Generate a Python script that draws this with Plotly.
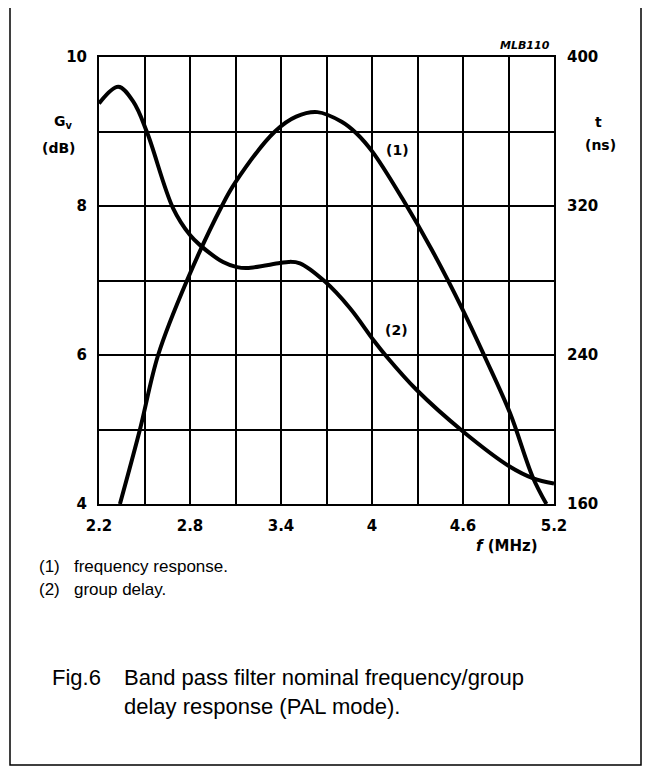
import plotly.graph_objects as go

# Curve (1): frequency response, Gv (dB) vs f (MHz)
freq_f = [2.338, 2.47, 2.59, 2.78, 3.01, 3.10, 3.36, 3.50, 3.64, 3.80, 3.90, 4.006, 4.20, 4.395, 4.60, 4.745, 4.91, 5.06, 5.15]
gain_db = [4.0, 5.0, 6.0, 7.0, 8.0, 8.32, 9.0, 9.2, 9.26, 9.13, 8.97, 8.72, 8.1, 7.41, 6.6, 5.97, 5.22, 4.36, 4.0]

# Curve (2): group delay, t (ns) vs f (MHz)
delay_f = [2.2, 2.327, 2.426, 2.516, 2.688, 2.80, 2.866, 3.018, 3.11, 3.176, 3.393, 3.45, 3.525, 3.69, 3.855, 4.009, 4.097, 4.295, 4.602, 4.91, 5.063, 5.2]
delay_ns = [375, 384, 376, 359.7, 318.9, 304.4, 299, 289.9, 287.2, 286.7, 289.4, 290, 289.2, 279.4, 265.1, 248.1, 239.1, 221.2, 198.8, 180.0, 173.8, 171.0]

x_ticks = [2.2 + 0.3 * i for i in range(11)]
x_labels = ["2.2", "", "2.8", "", "3.4", "", "4", "", "4.6", "", "5.2"]
y_ticks = [4, 5, 6, 7, 8, 9, 10]
y_labels = ["4", "", "6", "", "8", "", "10"]
y2_ticks = [160, 240, 320, 400]
y2_labels = ["160", "240", "320", "400"]

OFF = 8  # page body margin
W, H = 653 - OFF, 771 - OFF
L, R, T, B = 99, 554, 57, 504  # plot area in page pixels

def px(x):
    return (x - L) / (R - L)

def py(y):
    return (B - y) / (B - T)

fig = go.Figure()
fig.add_trace(go.Scatter(x=freq_f, y=gain_db, mode="lines",
                         line=dict(color="black", width=4, shape="spline", smoothing=1.0), showlegend=False))
fig.add_trace(go.Scatter(x=delay_f, y=delay_ns, mode="lines", yaxis="y2",
                         line=dict(color="black", width=4, shape="spline", smoothing=1.0), showlegend=False))

BF = "DejaVu Sans, sans-serif"
tf = dict(family=BF, size=15, color="black", weight="bold")

fig.update_layout(
    width=W, height=H,
    margin=dict(l=L - OFF, r=W - (R - OFF), t=T - OFF, b=H - (B - OFF), pad=0),
    paper_bgcolor="white", plot_bgcolor="white",
    xaxis=dict(range=[2.2, 5.2], tickvals=x_ticks, ticktext=x_labels, showgrid=True, gridcolor="black", gridwidth=2,
               showline=True, mirror=True, linecolor="black", linewidth=2, zeroline=False, ticks="",
               tickfont=tf, ticklabelstandoff=7),
    yaxis=dict(range=[4, 10], tickvals=y_ticks, ticktext=y_labels, showgrid=True, gridcolor="black", gridwidth=2,
               showline=True, mirror=True, linecolor="black", linewidth=2, zeroline=False, ticks="",
               tickfont=tf, ticklabelstandoff=7),
    yaxis2=dict(range=[160, 400], tickvals=y2_ticks, ticktext=y2_labels, overlaying="y", side="right",
                showgrid=False, zeroline=False, ticks="", showline=False, tickfont=tf, ticklabelstandoff=12),
    font=dict(family="Liberation Sans, Arial, sans-serif", color="black"),
)

bold = dict(family=BF, size=14, color="black", weight="bold")
ann = [
    dict(x=px(63), y=py(122), text="G<sub>v</sub>", font=bold),
    dict(x=px(59), y=py(148), text="(dB)", font=bold),
    dict(x=px(598), y=py(122), text="t", font=bold),
    dict(x=px(600), y=py(145), text="(ns)", font=bold),
    dict(x=px(507), y=py(546), text="<i>f</i> (MHz)", font=dict(family=BF, size=15, color="black", weight="bold")),
    dict(x=px(525), y=py(45), text="<i>MLB110</i>", font=dict(family=BF, size=11, color="black", weight="bold")),
    dict(x=px(397), y=py(150), text="(1)", font=bold),
    dict(x=px(396), y=py(330), text="(2)", font=bold),
]
for a in ann:
    a.update(xref="paper", yref="paper", showarrow=False, xanchor="center", yanchor="middle")
    fig.add_annotation(**a)

reg = dict(family="Liberation Sans, Arial, sans-serif", color="black")
left_notes = [
    (37, 566, "(1)&nbsp;&nbsp;&nbsp;frequency response.", 17),
    (37, 589, "(2)&nbsp;&nbsp;&nbsp;group delay.", 17),
    (50, 677, "Fig.6", 22),
    (122, 677, "Band pass filter nominal frequency/group", 22),
    (122, 706, "delay response (PAL mode).", 22),
]
for x0, y0, txt, sz in left_notes:
    fig.add_annotation(x=px(x0), y=py(y0), xref="paper", yref="paper", text=txt, showarrow=False,
                       xanchor="left", yanchor="middle", font=dict(size=sz, **reg))

fig.add_shape(type="rect", xref="paper", yref="paper", x0=px(10), x1=px(641), y0=py(765), y1=py(6),
              line=dict(color="black", width=1.5), layer="below")

fig.write_html("out.html")
